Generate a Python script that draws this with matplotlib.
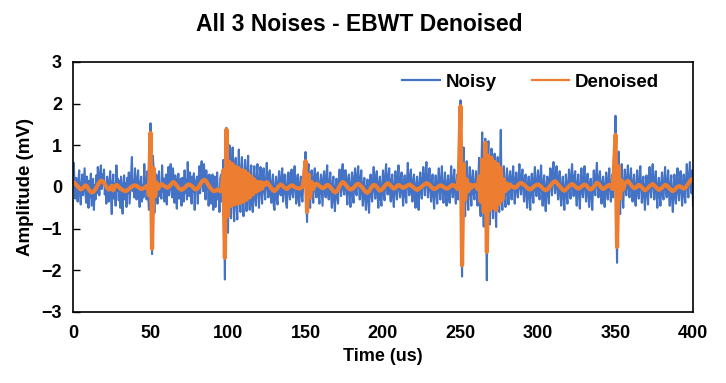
import numpy as np
import matplotlib
matplotlib.use("Agg")
import matplotlib.pyplot as plt

plt.rcParams['font.family'] = ['Liberation Sans', 'DejaVu Sans']
plt.rcParams['font.weight'] = 'bold'

# ---- data ----
# noisy trace: one sample every 0.5 us, 0..400 us (20 samples per row = 10 us)
noisy = [
    0.30, 0.58, 0.05, -0.28, 0.22, 0.10, -0.35, 0.18, 0.40, -0.15, -0.42, 0.05, 0.30, -0.20, 0.12, 0.45, -0.10, -0.38, 0.25, 0.02,
    -0.50, 0.15, -0.25, 0.32, -0.45, -0.10, 0.20, -0.55, 0.05, -0.30, 0.28, -0.15, 0.48, 0.10, -0.20, 0.35, 0.52, -0.05, 0.30, 0.08,
    0.42, -0.18, 0.05, -0.40, 0.25, -0.12, -0.35, 0.15, 0.38, -0.22, -0.65, 0.10, 0.30, -0.28, 0.08, -0.45, 0.52, -0.10, 0.20, -0.32,
    0.15, -0.50, 0.25, -0.12, -0.64, 0.05, 0.28, -0.30, 0.10, -0.48, 0.22, -0.15, 0.35, -0.40, -0.05, 0.30, 0.72, -0.10, 0.15, -0.25,
    0.45, -0.05, -0.30, 0.20, 0.40, -0.15, -0.48, 0.10, 0.25, -0.35, 0.05, -0.25, 0.55, -0.10, 0.22, -0.30, 0.38, -0.20, -0.55, 0.60,
    1.53, -0.40, -1.61, 0.75, 0.45, -0.62, 0.35, -0.30, 0.28, -0.40, 0.15, 0.38, -0.22, 0.05, -0.28, 0.52, -0.12, 0.20, -0.35, 0.10,
    0.30, -0.42, 0.12, 0.48, -0.20, 0.25, 0.55, -0.05, -0.25, 0.45, 0.10, -0.38, 0.28, -0.10, -0.52, 0.15, 0.32, -0.28, -0.05, 0.20,
    -0.45, 0.22, 0.05, -0.35, 0.40, -0.15, 0.18, -0.30, 0.60, 0.10, -0.22, 0.35, 0.08, -0.40, 0.25, -0.12, 0.33, -0.55, 0.05, 0.15,
    0.25, -0.40, 0.10, 0.50, -0.15, 0.35, 0.62, 0.05, -0.10, 0.55, 0.20, -0.30, 0.40, -0.05, 0.25, -0.45, 0.30, -0.10, -0.40, 0.18,
    0.30, -0.55, -0.10, 0.25, -0.48, 0.05, 0.35, -0.30, -0.15, -0.60, 0.20, 0.30, -0.35, 0.10, 0.65, -0.50, -2.22, 0.90, 1.42, -0.60,
    -1.10, 0.30, 1.00, -0.50, -0.75, 0.40, 0.95, -0.30, -0.82, 0.55, 0.70, -0.45, -0.78, 0.35, 0.90, -0.20, -0.60, 0.45, 0.72, -0.35,
    -0.70, 0.30, 0.65, -0.25, -0.58, 0.45, 0.75, -0.15, -0.55, 0.30, 0.52, -0.40, -0.60, 0.20, 0.50, -0.30, -0.45, 0.25, 0.55, -0.10,
    -0.50, 0.20, 0.48, -0.15, -0.40, 0.30, 0.45, -0.10, -0.30, 0.15, 0.58, 0.05, -0.25, 0.30, 0.40, -0.20, -0.38, 0.10, 0.30, -0.45,
    -0.55, 0.05, 0.25, -0.30, -0.42, 0.15, 0.38, -0.10, -0.20, 0.25, 0.45, -0.35, -0.15, 0.30, 0.28, -0.40, -0.50, 0.05, 0.35, -0.10,
    -0.30, 0.20, 0.42, -0.15, -0.25, 0.30, 0.50, -0.05, -0.40, 0.15, 0.30, -0.30, -0.45, 0.10, 0.25, -0.20, -0.35, 0.05, 0.45, 0.20,
    0.84, -0.30, -0.84, 0.40, 0.55, -0.20, -0.50, 0.30, 0.40, -0.15, -0.38, 0.25, 0.45, -0.05, -0.25, 0.30, 0.35, -0.20, -0.40, 0.10,
    0.30, -0.10, -0.45, 0.20, 0.38, -0.05, -0.25, 0.30, 0.52, -0.15, -0.30, 0.10, 0.35, -0.20, -0.50, 0.05, 0.25, -0.35, -0.58, 0.00,
    0.20, -0.25, -0.40, 0.15, 0.42, 0.10, -0.22, 0.35, 0.55, -0.05, -0.18, 0.40, 0.40, -0.10, -0.42, 0.20, 0.30, -0.15, -0.48, 0.05,
    0.35, -0.20, -0.38, 0.25, 0.45, -0.10, -0.20, 0.30, 0.50, 0.05, -0.30, 0.20, 0.40, -0.15, -0.45, 0.10, 0.22, -0.30, -0.55, 0.00,
    0.18, -0.35, -0.62, 0.05, 0.30, -0.20, -0.35, 0.15, 0.48, -0.05, -0.28, 0.25, 0.38, -0.20, -0.50, 0.10, 0.25, -0.30, -0.45, 0.05,
    0.40, -0.15, -0.32, 0.30, 0.55, 0.05, -0.18, 0.25, 0.45, -0.10, -0.35, 0.15, 0.30, -0.25, -0.48, 0.05, 0.38, -0.10, -0.30, 0.20,
    0.52, -0.05, -0.25, 0.20, 0.35, -0.15, -0.45, 0.10, 0.28, -0.20, -0.38, 0.15, 0.58, 0.05, -0.20, 0.25, 0.42, -0.10, -0.35, 0.15,
    0.30, -0.20, -0.50, 0.05, 0.25, -0.30, -0.55, 0.10, 0.35, -0.05, -0.28, 0.20, 0.48, 0.05, -0.20, 0.30, 0.60, 0.10, -0.25, 0.20,
    0.45, -0.05, -0.35, 0.15, 0.30, -0.25, -0.52, 0.05, 0.28, -0.15, -0.40, 0.10, 0.45, -0.05, -0.30, 0.20, 0.50, -0.10, -0.38, 0.05,
    0.35, -0.15, -0.45, 0.10, 0.28, -0.20, -0.38, 0.15, 0.50, -0.05, -0.25, 0.20, 0.42, -0.15, -0.40, 0.10, 0.30, -0.30, 0.60, 0.25,
    2.08, -0.80, -2.15, 0.50, 0.95, -0.30, -0.70, 0.25, 0.62, -0.20, -0.55, 0.15, 0.48, -0.10, -0.45, 0.20, 0.40, -0.15, -0.30, 0.10,
    0.38, -0.10, -0.45, 0.20, 0.70, -0.35, -0.70, 0.50, 1.31, -0.30, -0.95, 0.40, 1.16, -0.50, -2.24, 0.60, 1.10, -0.40, -0.90, 0.35,
    0.92, -0.30, -0.75, 0.40, 0.80, -0.45, -0.96, 0.30, 0.72, -0.20, -0.60, 0.50, 1.37, -0.20, -0.55, 0.25, 0.50, -0.15, -0.48, 0.10,
    0.45, -0.10, -0.42, 0.20, 0.38, -0.05, -0.30, 0.25, 0.50, 0.05, -0.40, 0.15, 0.35, -0.10, -0.25, 0.20, 0.55, 0.00, -0.18, 0.30,
    0.42, -0.05, -0.35, 0.15, 0.30, -0.20, -0.50, 0.05, 0.25, -0.25, -0.55, 0.10, 0.32, -0.15, -0.38, 0.20, 0.48, -0.05, -0.22, 0.15,
    0.40, -0.10, -0.30, 0.25, 0.52, -0.05, -0.45, 0.10, 0.28, -0.30, -0.58, 0.05, 0.25, -0.15, -0.40, 0.20, 0.45, 0.05, -0.20, 0.35,
    0.60, 0.10, -0.15, 0.30, 0.50, -0.05, -0.30, 0.20, 0.38, -0.20, -0.45, 0.05, 0.25, -0.25, -0.55, 0.00, 0.30, -0.20, -0.40, 0.10,
    0.42, -0.05, -0.28, 0.30, 0.55, 0.00, -0.22, 0.25, 0.38, -0.15, -0.45, 0.10, 0.30, -0.20, -0.52, 0.05, 0.45, -0.10, -0.25, 0.20,
    0.50, -0.05, -0.35, 0.15, 0.32, -0.20, -0.48, 0.05, 0.20, -0.25, -0.55, 0.00, 0.40, -0.10, -0.20, 0.30, 0.58, 0.05, -0.25, 0.20,
    0.38, -0.15, -0.40, 0.10, 0.25, -0.20, -0.48, 0.05, 0.35, -0.10, -0.30, 0.20, 0.45, -0.05, -0.35, 0.10, 0.30, -0.25, 0.70, 0.30,
    1.71, -0.60, -1.82, 0.40, 0.85, -0.30, -0.65, 0.20, 0.55, -0.15, -0.50, 0.10, 0.42, -0.05, -0.20, 0.25, 0.52, 0.00, -0.25, 0.20,
    0.45, -0.05, -0.35, 0.10, 0.30, -0.20, -0.45, 0.05, 0.40, -0.10, -0.28, 0.20, 0.50, 0.00, -0.38, 0.10, 0.25, -0.25, -0.55, 0.05,
    0.28, -0.15, -0.42, 0.20, 0.48, -0.05, -0.25, 0.25, 0.55, 0.05, -0.30, 0.15, 0.38, -0.15, -0.50, 0.05, 0.22, -0.20, -0.45, 0.10,
    0.35, -0.20, -0.30, 0.20, 0.48, -0.05, -0.25, 0.15, 0.40, -0.15, -0.45, 0.05, 0.28, -0.30, -0.60, -0.05, 0.30, -0.25, -0.40, 0.10,
    0.45, -0.10, -0.32, 0.15, 0.38, -0.10, -0.45, 0.05, 0.30, -0.20, -0.38, 0.15, 0.55, 0.05, -0.25, 0.30, 0.60, 0.05, -0.15, 0.40,
    -0.45,
]

# denoised trace: one sample every 1 us, 0..400 us (20 samples per row = 20 us)
denoised = [
    0.12, 0.10, 0.06, 0.02, -0.03, -0.06, -0.04, 0.00, 0.04, 0.02, -0.05, -0.10, -0.13, -0.12, -0.08, -0.02, 0.05, 0.11, 0.15, 0.14,
    0.10, 0.04, -0.02, -0.06, -0.05, 0.03, -0.08, 0.02, 0.05, 0.03, -0.02, -0.05, -0.07, -0.09, -0.10, -0.08, -0.05, -0.02, 0.01, 0.03,
    0.04, 0.03, 0.00, -0.03, -0.05, -0.04, -0.02, 0.01, 0.03, -0.20, 1.30, -1.48, 0.45, -0.22, 0.10, -0.04, 0.04, 0.07, 0.05, 0.02,
    0.00, -0.02, 0.01, 0.05, 0.10, 0.12, 0.08, 0.03, -0.02, -0.05, -0.07, -0.05, -0.02, 0.02, 0.05, 0.06, 0.04, 0.01, -0.03, -0.06,
    -0.05, 0.00, 0.06, 0.12, 0.16, 0.17, 0.13, 0.07, 0.01, -0.04, -0.08, -0.10, -0.09, -0.06, -0.08, -0.10, -0.05, 0.40, -1.70, 1.38,
    -0.70, 0.60, -0.45, 0.55, -0.42, 0.48, -0.40, 0.45, -0.38, 0.40, -0.35, 0.38, -0.30, 0.32, -0.25, 0.25, -0.18, 0.18, -0.12, 0.12,
    -0.08, 0.12, -0.04, 0.10, 0.05, 0.12, 0.08, 0.02, -0.03, -0.08, -0.10, -0.06, -0.02, 0.03, 0.06, 0.04, 0.00, -0.03, -0.05, -0.02,
    0.02, 0.04, 0.03, 0.00, -0.02, -0.03, -0.04, -0.02, 0.00, 0.20, 0.62, -0.60, 0.30, -0.25, 0.12, -0.05, 0.05, 0.08, 0.06, 0.02,
    0.00, -0.03, -0.02, 0.02, 0.05, 0.04, 0.00, -0.05, -0.10, -0.13, -0.11, -0.05, 0.02, 0.08, 0.12, 0.10, 0.05, 0.00, -0.04, -0.06,
    -0.05, -0.02, 0.02, 0.06, 0.08, 0.05, 0.01, -0.03, -0.08, -0.12, -0.14, -0.10, -0.04, 0.02, 0.05, 0.04, 0.00, -0.05, -0.09, -0.07,
    -0.03, 0.02, 0.06, 0.09, 0.07, 0.03, -0.01, -0.04, -0.02, 0.02, 0.05, 0.03, 0.00, -0.02, -0.01, 0.02, 0.04, 0.06, 0.04, 0.01,
    -0.02, -0.05, -0.07, -0.05, -0.02, 0.01, 0.04, 0.07, 0.09, 0.08, 0.05, 0.01, -0.03, -0.05, -0.04, -0.01, 0.02, 0.04, 0.03, 0.00,
    -0.02, -0.04, -0.03, 0.00, 0.03, 0.05, 0.03, 0.00, -0.05, 0.35, 1.94, -1.88, 0.55, -0.30, 0.18, -0.10, 0.06, -0.02, 0.04, 0.05,
    0.03, -0.05, 0.25, -0.35, 0.65, -0.60, 1.06, -1.56, 0.75, -0.55, 0.70, -0.50, 0.60, -0.55, 0.55, -0.40, 0.45, -0.30, 0.18, -0.10,
    0.08, -0.04, 0.06, 0.02, 0.00, -0.02, 0.00, 0.04, 0.08, 0.10, 0.08, 0.05, 0.02, -0.02, -0.05, -0.06, -0.04, 0.00, 0.03, 0.05,
    0.06, 0.04, 0.01, -0.03, -0.06, -0.08, -0.06, -0.02, 0.03, 0.08, 0.12, 0.14, 0.11, 0.06, 0.02, -0.03, -0.07, -0.09, -0.06, -0.02,
    0.02, 0.05, 0.07, 0.05, 0.01, -0.02, -0.04, -0.02, 0.01, 0.04, 0.06, 0.04, 0.00, -0.04, -0.06, -0.04, 0.00, 0.05, 0.10, 0.08,
    0.03, -0.02, -0.05, -0.03, 0.00, 0.03, 0.05, 0.02, -0.05, 0.40, 1.25, -1.44, 0.50, -0.28, 0.15, -0.06, 0.08, 0.12, 0.15, 0.10,
    0.05, 0.00, -0.03, -0.02, 0.02, 0.05, 0.03, -0.01, -0.05, -0.08, -0.06, -0.02, 0.02, 0.05, 0.07, 0.04, 0.00, -0.04, -0.07, -0.05,
    -0.02, 0.02, 0.05, 0.04, 0.00, -0.04, -0.08, -0.10, -0.07, -0.03, 0.00, 0.02, 0.01, -0.02, -0.04, -0.02, 0.03, 0.08, 0.14, 0.18,
    0.20,
]

assert len(noisy) == 801, len(noisy)
assert len(denoised) == 401, len(denoised)

t_noisy = np.linspace(0, 400, len(noisy))
t_denoised = np.linspace(0, 400, len(denoised))

x_ticks = [0, 50, 100, 150, 200, 250, 300, 350, 400]
y_ticks = [-3, -2, -1, 0, 1, 2, 3]

# ---- figure ----
fig = plt.figure(figsize=(7.26, 3.83), dpi=100)
ax = fig.add_axes([73/726, 1-312/383, 620/726, 250/383])

ax.plot(t_noisy, noisy, color='#4472C4', lw=1.5, label='Noisy')
ax.plot(t_denoised, denoised, color='#ED7D31', lw=3.0, label='Denoised')

ax.set_xlim(0, 400)
ax.set_ylim(-3, 3)
ax.set_xticks(x_ticks)
ax.set_yticks(y_ticks)
ax.tick_params(axis='x', length=0, pad=9, labelsize=13)
ax.tick_params(axis='y', direction='in', length=5, width=1, pad=8, labelsize=13)
for s in ax.spines.values():
    s.set_linewidth(1.2)
    s.set_color('black')

ax.set_xlabel('Time (us)', fontsize=13, fontweight='bold', labelpad=5)
ax.set_ylabel('Amplitude (mV)', fontsize=13.5, fontweight='bold', labelpad=5)
fig.suptitle('All 3 Noises - EBWT Denoised', x=0.495, y=0.965, fontsize=16.5, fontweight='bold')

leg = ax.legend(loc='center', bbox_to_anchor=(0.731, 0.786), bbox_transform=fig.transFigure,
                ncol=2, frameon=False, fontsize=13.5, handlelength=2.0,
                handletextpad=0.3, columnspacing=1.9)
for h in leg.get_lines():
    h.set_linewidth(1.6)

fig.savefig('out.png', dpi=100)
